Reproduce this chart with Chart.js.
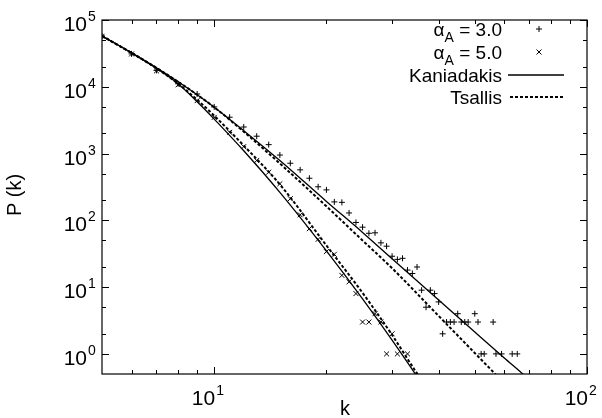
<!DOCTYPE html>
<html>
<head>
<meta charset="utf-8">
<script src="https://cdn.jsdelivr.net/npm/chart.js@4.4.0/dist/chart.umd.min.js"></script>
<style>
  html, body { margin: 0; padding: 0; background: #fff; }
  #wrap { width: 602px; height: 418px; }
</style>
</head>
<body>
<div id="wrap"><canvas id="chart"></canvas></div>
<script>
// measured degree distribution, alpha_A = 3.0 (+)
const kA3 = [5, 6, 7, 8, 9, 10, 11, 12, 13, 14, 15, 16, 17, 18, 19, 20, 21, 22, 23, 24, 25, 26, 27, 28, 29, 30,
  31, 32, 33, 34, 35, 36, 37, 38, 39, 40, 41, 42, 43, 44, 45, 46, 47, 48, 50, 51, 52, 53, 56, 57, 59, 63, 65];
const pA3 = [57700, 31100, 17600, 11100, 7800, 5000, 3500, 2500, 1820, 1360, 950, 716, 570, 427, 318, 286, 189, 186,
  129, 93, 79, 64, 65, 46, 41, 29, 26, 27, 18, 16, 20, 9, 5, 9, 8, 6, 2, 3, 3, 3, 4, 3, 3, 3, 4, 3, 1, 1, 3, 1, 1, 1, 1];

// measured degree distribution, alpha_A = 5.0 (x)
const kA5 = [5, 6, 7, 8, 9, 10, 11, 12, 13, 14, 15, 16, 17, 18, 19, 20, 21, 22, 23, 24, 25, 26, 27, 28, 29, 30, 31, 33];
const pA5 = [57000, 31000, 17300, 10700, 6200, 3480, 2080, 1270, 787, 526, 353, 211, 121, 75, 52, 34, 31, 15, 12, 8,
  3, 3, 4, 3, 1, 2, 1, 1];

// fitted curves
const kKanA3 = [5, 6, 7, 8, 9, 10, 12, 15, 20, 25, 30, 40, 50, 60, 67, 70];
const pKanA3 = [57700, 32200, 19200, 11900, 7600, 4940, 2200, 787, 192, 66, 26.6, 6.4, 2.13, 0.87, 0.51, 0.41];
const kTsaA3 = [5, 6, 7, 8, 9, 10, 12, 15, 20, 25, 30, 40, 50, 57, 60];
const pTsaA3 = [57700, 32200, 19200, 11900, 7600, 4940, 2130, 710, 162, 50, 19.2, 3.7, 1.03, 0.486, 0.36];
const kKanA5 = [5, 6, 7, 8, 9, 10, 12, 15, 20, 25, 30, 35, 36];
const pKanA5 = [57700, 32200, 18900, 11100, 5970, 3280, 1100, 262, 34.9, 6.67, 1.61, 0.458, 0.36];
const kTsaA5 = [5, 6, 7, 8, 9, 10, 12, 15, 20, 25, 30, 35, 36];
const pTsaA5 = [57700, 32200, 18900, 11100, 6400, 3690, 1316, 345, 42, 8.2, 1.92, 0.51, 0.41];

// ticks
const xMajor = [10, 100];
const xMinor = [6, 7, 8, 9, 20, 30, 40, 50, 60, 70, 80, 90];
const yMajor = [1, 10, 100, 1000, 10000, 100000];
const yMinor = [2, 5, 20, 50, 200, 500, 2000, 5000, 20000, 50000];

const legendRows = [
  { label: '= 3.0', alpha: true, kind: 'plus' },
  { label: '= 5.0', alpha: true, kind: 'cross' },
  { label: 'Kaniadakis', kind: 'solid' },
  { label: 'Tsallis', kind: 'dash' }
];

const FONT = '"Liberation Sans", Arial, sans-serif';

function pts(ks, ps) {
  return ks.map((k, i) => ({ x: k, y: ps[i] }));
}

function curve(ks, ps, dashed) {
  return {
    type: 'line',
    data: pts(ks, ps),
    borderColor: '#000',
    borderWidth: dashed ? 2 : 1.3,
    borderDash: dashed ? [3, 2] : [],
    pointRadius: 0,
    cubicInterpolationMode: 'monotone',
    clip: 0
  };
}

// box, inward ticks, power-of-ten labels, axis titles, legend
const frame = {
  id: 'frame',
  afterDatasetsDraw(chart) {
    const { ctx, chartArea: a, scales: { x, y } } = chart;
    ctx.save();
    ctx.strokeStyle = '#000';
    ctx.fillStyle = '#000';
    ctx.lineWidth = 1.2;
    ctx.strokeRect(a.left, a.top, a.right - a.left, a.bottom - a.top);

    ctx.beginPath();
    const tickX = (v, len) => {
      const px = Math.round(x.getPixelForValue(v)) + 0.5;
      ctx.moveTo(px, a.bottom); ctx.lineTo(px, a.bottom - len);
      ctx.moveTo(px, a.top); ctx.lineTo(px, a.top + len);
    };
    const tickY = (v, len) => {
      const py = Math.round(y.getPixelForValue(v)) + 0.5;
      ctx.moveTo(a.left, py); ctx.lineTo(a.left + len, py);
      ctx.moveTo(a.right, py); ctx.lineTo(a.right - len, py);
    };
    xMajor.forEach(v => tickX(v, 7));
    xMinor.forEach(v => tickX(v, 4));
    yMajor.forEach(v => tickY(v, 7));
    yMinor.forEach(v => tickY(v, 4));
    ctx.lineWidth = 1;
    ctx.stroke();

    const pow10 = (exp, xr, base) => {
      ctx.font = '21px ' + FONT;
      ctx.textAlign = 'right';
      ctx.textBaseline = 'alphabetic';
      ctx.fillText('10', xr, base);
      ctx.font = '14px ' + FONT;
      ctx.textAlign = 'left';
      ctx.fillText(String(exp), xr + 1, base - 10);
    };
    yMajor.forEach(v => {
      const py = y.getPixelForValue(v);
      pow10(Math.round(Math.log10(v)), 87, py + 11);
    });
    xMajor.forEach(v => {
      const px = x.getPixelForValue(v);
      pow10(Math.round(Math.log10(v)), px + 1, 405);
    });

    // axis titles
    ctx.font = '20px ' + FONT;
    ctx.textAlign = 'center';
    ctx.fillText('k', 345, 415);
    ctx.save();
    ctx.translate(21, 195);
    ctx.rotate(-Math.PI / 2);
    ctx.textBaseline = 'alphabetic';
    ctx.fillText('P (k)', 0, 0);
    ctx.restore();

    // legend
    const textRight = 502;
    const rowsY = [29, 52, 75, 97];
    legendRows.forEach((r, i) => {
      const cy = rowsY[i];
      const base = cy + 7;
      ctx.font = '19px ' + FONT;
      ctx.textAlign = 'right';
      ctx.fillText(r.label, textRight, base);
      if (r.alpha) {
        const w = ctx.measureText(r.label + ' ').width;
        ctx.font = '14px ' + FONT;
        const wa = ctx.measureText('A').width;
        ctx.textAlign = 'right';
        ctx.fillText('A', textRight - w, base + 6);
        ctx.font = '19px ' + FONT;
        ctx.fillText('\u03b1', textRight - w - wa, base);
      }
      ctx.beginPath();
      ctx.lineWidth = 1;
      if (r.kind === 'plus') {
        ctx.moveTo(536, cy); ctx.lineTo(542, cy);
        ctx.moveTo(539, cy - 3); ctx.lineTo(539, cy + 3);
        ctx.stroke();
      } else if (r.kind === 'cross') {
        ctx.moveTo(536.5, cy - 2.5); ctx.lineTo(541.5, cy + 2.5);
        ctx.moveTo(536.5, cy + 2.5); ctx.lineTo(541.5, cy - 2.5);
        ctx.stroke();
      } else if (r.kind === 'solid') {
        ctx.lineWidth = 1.3;
        ctx.moveTo(508, cy); ctx.lineTo(564, cy);
        ctx.stroke();
      } else {
        ctx.lineWidth = 2;
        ctx.setLineDash([3, 2]);
        ctx.moveTo(510, cy); ctx.lineTo(564, cy);
        ctx.stroke();
        ctx.setLineDash([]);
      }
    });
    ctx.restore();
  }
};

new Chart(document.getElementById('chart'), {
  type: 'scatter',
  data: {
    datasets: [
      {
        data: pts(kA3, pA3), pointStyle: 'cross', pointRadius: 3, borderColor: '#000', borderWidth: 1,
        backgroundColor: '#000', showLine: false
      },
      {
        data: pts(kA5, pA5), pointStyle: 'crossRot', pointRadius: 3.5, borderColor: '#000', borderWidth: 1,
        backgroundColor: '#000', showLine: false
      },
      curve(kKanA3, pKanA3, false),
      curve(kTsaA3, pTsaA3, true),
      curve(kKanA5, pKanA5, false),
      curve(kTsaA5, pTsaA5, true)
    ]
  },
  options: {
    responsive: true,
    maintainAspectRatio: false,
    animation: false,
    layout: { padding: { left: 102, top: 20, right: 15, bottom: 44 } },
    plugins: { legend: { display: false }, tooltip: { enabled: false } },
    scales: {
      x: { type: 'logarithmic', min: 5, max: 100, display: false },
      y: { type: 'logarithmic', min: 0.5, max: 100000, display: false }
    },
    elements: { point: { hoverRadius: 3 } }
  },
  plugins: [frame]
});
</script>
</body>
</html>
